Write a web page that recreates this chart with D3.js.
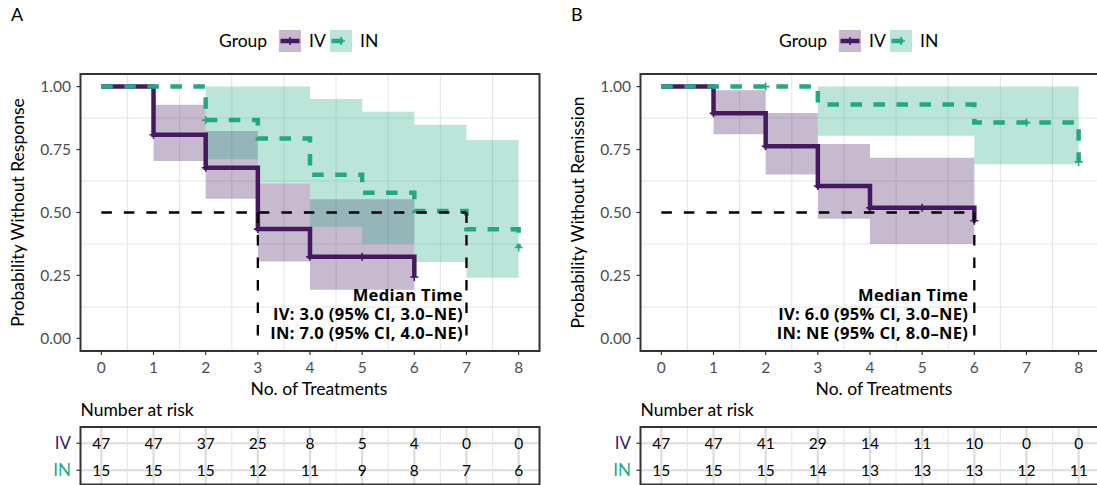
<!DOCTYPE html>
<html>
<head>
<meta charset="utf-8">
<script src="https://cdn.jsdelivr.net/npm/d3@7"></script>
<style>
  body { margin: 0; background: #fff; }
  svg { display: block; font-family: Lato, "Open Sans", sans-serif; }
  .median-note { font-family: "Open Sans", Lato, sans-serif; letter-spacing: 0.35px; }
</style>
</head>
<body>
<svg id="chart" width="1097" height="485"></svg>
<script>
/* Kaplan-Meier curves, two panels with risk tables */

const treatTicks = [0, 1, 2, 3, 4, 5, 6, 7, 8];
const groups = ['IV', 'IN'];
const yTicks = [0, 0.25, 0.5, 0.75, 1];

// panel A: response
const respIvTime = [0, 1, 2, 3, 4, 6];
const respIvSurv = [1, 0.809, 0.678, 0.434, 0.324, 0.244];
const respIvLower = [1, 0.705, 0.555, 0.305, 0.193, 0.193];
const respIvUpper = [1, 0.928, 0.824, 0.616, 0.553, 0.553];
const respIvCensor = [1, 2, 3, 4, 5, 6];

const respInTime = [0, 2, 3, 4, 5, 6, 7, 8];
const respInSurv = [1, 0.867, 0.794, 0.650, 0.578, 0.506, 0.433, 0.361];
const respInLower = [1, 0.711, 0.618, 0.443, 0.376, 0.303, 0.241, 0.241];
const respInUpper = [1, 1, 1, 0.951, 0.900, 0.848, 0.788, 0.788];
const respInCensor = [2, 8];

const respMedians = [3, 7];
const respText = ['Median Time', 'IV: 3.0 (95% CI, 3.0–NE)', 'IN: 7.0 (95% CI, 4.0–NE)'];
const respRiskIv = [47, 47, 37, 25, 8, 5, 4, 0, 0];
const respRiskIn = [15, 15, 15, 12, 11, 9, 8, 7, 6];

// panel B: remission
const remIvTime = [0, 1, 2, 3, 4, 6];
const remIvSurv = [1, 0.894, 0.763, 0.605, 0.519, 0.467];
const remIvLower = [1, 0.811, 0.651, 0.475, 0.375, 0.375];
const remIvUpper = [1, 0.985, 0.895, 0.772, 0.717, 0.717];
const remIvCensor = [1, 2, 3, 4, 5, 6];

const remInTime = [0, 3, 6, 8];
const remInSurv = [1, 0.929, 0.857, 0.701];
const remInLower = [1, 0.805, 0.692, 0.692];
const remInUpper = [1, 1, 1, 1];
const remInCensor = [2, 7, 8];

const remMedians = [6];
const remText = ['Median Time', 'IV: 6.0 (95% CI, 3.0–NE)', 'IN: NE (95% CI, 8.0–NE)'];
const remRiskIv = [47, 47, 41, 29, 14, 11, 10, 0, 0];
const remRiskIn = [15, 15, 15, 14, 13, 13, 13, 12, 11];

const colors = { IV: '#44195f', IN: '#22a884' };
const fills = { IV: 'rgba(68,25,95,0.3)', IN: 'rgba(34,168,132,0.3)' };
const dashes = { IV: null, IN: '11.5,11.5' };

const panels = [
  {
    tag: 'A', dx: 0, yTitle: 'Probability Without Response',
    medians: respMedians, text: respText, textGap: 3.5, titleShift: 9,
    curves: [
      { g: 'IV', time: respIvTime, surv: respIvSurv, lower: respIvLower, upper: respIvUpper, censor: respIvCensor },
      { g: 'IN', time: respInTime, surv: respInSurv, lower: respInLower, upper: respInUpper, censor: respInCensor }
    ],
    risk: { IV: respRiskIv, IN: respRiskIn }
  },
  {
    tag: 'B', dx: 560, yTitle: 'Probability Without Remission',
    medians: remMedians, text: remText, textGap: 6, titleShift: 14,
    curves: [
      { g: 'IV', time: remIvTime, surv: remIvSurv, lower: remIvLower, upper: remIvUpper, censor: remIvCensor },
      { g: 'IN', time: remInTime, surv: remInSurv, lower: remInLower, upper: remInUpper, censor: remInCensor }
    ],
    risk: { IV: remRiskIv, IN: remRiskIn }
  }
];

const svg = d3.select('#chart');

function stepValue(time, vals, t) {
  let v = vals[0];
  time.forEach((tt, i) => { if (tt <= t) v = vals[i]; });
  return v;
}

function drawGrid(g, x, yPos, xMin, xMax, yMin, yMax, hLines) {
  const minorX = treatTicks.slice(0, -1).map((d) => d + 0.5);
  g.selectAll('.gx-minor').data(minorX).join('line')
    .attr('x1', x).attr('x2', x).attr('y1', yMin).attr('y2', yMax)
    .attr('stroke', '#e6e6e6').attr('stroke-width', 1.1);
  if (hLines.minor) {
    g.selectAll('.gy-minor').data(hLines.minor).join('line')
      .attr('class', 'gy-minor')
      .attr('x1', xMin).attr('x2', xMax).attr('y1', yPos).attr('y2', yPos)
      .attr('stroke', '#e6e6e6').attr('stroke-width', 1.1);
  }
  g.selectAll('.gx-major').data(treatTicks).join('line')
    .attr('class', 'gx-major')
    .attr('x1', x).attr('x2', x).attr('y1', yMin).attr('y2', yMax)
    .attr('stroke', '#dcdcdc').attr('stroke-width', 2.2);
  g.selectAll('.gy-major').data(hLines.major).join('line')
    .attr('class', 'gy-major')
    .attr('x1', xMin).attr('x2', xMax).attr('y1', yPos).attr('y2', yPos)
    .attr('stroke', '#dcdcdc').attr('stroke-width', 2.2);
}

panels.forEach((p) => {
  const left = 80.5 + p.dx, right = 539.5 + p.dx;
  const top = 74, bottom = 351;
  const x = d3.scaleLinear().domain([-0.4, 8.4]).range([left, right]);
  const y = d3.scaleLinear().domain([-0.05, 1.05]).range([bottom, top]);
  const g = svg.append('g');

  // tag
  g.append('text').attr('x', p.dx + 11).attr('y', 21)
    .attr('font-size', 18).attr('fill', '#000').text(p.tag);

  // legend
  const lg = g.append('g').attr('transform', `translate(${p.dx + 219},41)`);
  lg.append('text').attr('x', 0).attr('y', 6).attr('font-size', 17.5).text('Group');
  const keyX = { IV: 60, IN: 111 };
  groups.forEach((k) => {
    const kg = lg.append('g').attr('transform', `translate(${keyX[k]},0)`);
    kg.append('rect').attr('x', 0).attr('y', -11).attr('width', 22).attr('height', 22)
      .attr('fill', fills[k]);
    kg.append('line').attr('x1', 1.5).attr('x2', 20.5).attr('y1', 0).attr('y2', 0)
      .attr('stroke', colors[k]).attr('stroke-width', 4.5)
      .attr('stroke-dasharray', dashes[k]);
    kg.append('path').attr('d', 'M-4,0H4M0,-4V4').attr('transform', 'translate(11,0)')
      .attr('stroke', colors[k]).attr('stroke-width', 1.6).attr('fill', 'none');
    kg.append('text').attr('x', 30).attr('y', 6).attr('font-size', 17.5).text(k);
  });

  // grid
  drawGrid(g, (d) => x(d), (d) => y(d), left, right, top, bottom,
    { major: yTicks, minor: [0.125, 0.375, 0.625, 0.875] });

  // confidence bands
  const area = d3.area().curve(d3.curveStepAfter)
    .x((d) => x(d.t)).y0((d) => y(d.lo)).y1((d) => y(d.hi));
  const line = d3.line().curve(d3.curveStepAfter)
    .x((d) => x(d.t)).y((d) => y(d.s));
  p.curves.forEach((c) => {
    const pts = c.time.map((t, i) => ({ t, s: c.surv[i], lo: c.lower[i], hi: c.upper[i] }));
    g.append('path').datum(pts).attr('d', area).attr('fill', fills[c.g]).attr('stroke', 'none');
  });
  p.curves.forEach((c) => {
    const pts = c.time.map((t, i) => ({ t, s: c.surv[i] }));
    g.append('path').datum(pts).attr('d', line)
      .attr('fill', 'none').attr('stroke', colors[c.g]).attr('stroke-width', 4.5)
      .attr('stroke-dasharray', dashes[c.g]);
    g.selectAll(null).data(c.censor).join('path')
      .attr('d', 'M-4,0H4M0,-4V4')
      .attr('transform', (t) => `translate(${x(t)},${y(stepValue(c.time, c.surv, t))})`)
      .attr('stroke', colors[c.g]).attr('stroke-width', 1.6).attr('fill', 'none');
  });

  // median lines
  const mMax = d3.max(p.medians);
  g.append('line').attr('x1', x(0)).attr('x2', x(mMax)).attr('y1', y(0.5)).attr('y2', y(0.5))
    .attr('stroke', '#000').attr('stroke-width', 2.3).attr('stroke-dasharray', '10.5,12');
  g.selectAll(null).data(p.medians).join('line')
    .attr('x1', (d) => x(d)).attr('x2', (d) => x(d)).attr('y1', y(0.5)).attr('y2', y(0))
    .attr('stroke', '#000').attr('stroke-width', 2.3).attr('stroke-dasharray', '10.5,12');

  // one text block, three lines
  const note = g.append('text').attr('class', 'median-note')
    .attr('text-anchor', 'end').attr('font-size', 16.5).attr('font-weight', 'bold')
    .attr('fill', '#000');
  note.selectAll('tspan').data(p.text).join('tspan')
    .attr('x', x(mMax) - p.textGap).attr('y', (d, i) => 301 + i * 19)
    .text((d) => d);

  // border & ticks
  g.append('rect').attr('x', left).attr('y', top).attr('width', right - left).attr('height', bottom - top)
    .attr('fill', 'none').attr('stroke', '#333').attr('stroke-width', 2);
  g.selectAll(null).data(yTicks).join('line')
    .attr('x1', left - 4).attr('x2', left).attr('y1', (d) => y(d)).attr('y2', (d) => y(d))
    .attr('stroke', '#333').attr('stroke-width', 1.2);
  g.selectAll(null).data(yTicks).join('text')
    .attr('x', left - 9.5).attr('y', (d) => y(d) + 5.2).attr('text-anchor', 'end')
    .attr('font-size', 15.5).attr('fill', '#4d4d4d').text((d) => d.toFixed(2));
  g.selectAll(null).data(treatTicks).join('line')
    .attr('x1', (d) => x(d)).attr('x2', (d) => x(d)).attr('y1', bottom).attr('y2', bottom + 4)
    .attr('stroke', '#333').attr('stroke-width', 1.2);
  g.selectAll(null).data(treatTicks).join('text')
    .attr('x', (d) => x(d)).attr('y', 373).attr('text-anchor', 'middle')
    .attr('font-size', 15.5).attr('fill', '#4d4d4d').text((d) => d);

  g.append('text').attr('x', (left + right) / 2 + p.titleShift).attr('y', 395).attr('text-anchor', 'middle')
    .attr('font-size', 17.5).text('No. of Treatments');
  g.append('text').attr('transform', `translate(${p.dx + 24},${(top + bottom) / 2}) rotate(-90)`)
    .attr('text-anchor', 'middle').attr('font-size', 17.5).text(p.yTitle);

  // risk table
  const tTop = 427, tBottom = 484.5;
  const ry = d3.scalePoint().domain(groups).range([tTop, tBottom + 2]).padding(0.6);
  g.append('text').attr('x', left).attr('y', 415.5).attr('font-size', 17.5).text('Number at risk');
  drawGrid(g, (d) => x(d), (d) => ry(d), left, right, tTop, tBottom, { major: groups });
  groups.forEach((k) => {
    g.selectAll(null).data(p.risk[k]).join('text')
      .attr('x', (d, i) => x(treatTicks[i])).attr('y', ry(k) + 5.5)
      .attr('text-anchor', 'middle').attr('font-size', 15.5).attr('fill', '#000')
      .text((d) => d);
    g.append('text').attr('x', left - 9.5).attr('y', ry(k) + 6)
      .attr('text-anchor', 'end').attr('font-size', 17).attr('fill', colors[k]).text(k);
    g.append('line').attr('x1', left - 4).attr('x2', left).attr('y1', ry(k)).attr('y2', ry(k))
      .attr('stroke', '#333').attr('stroke-width', 1.2);
  });
  g.append('rect').attr('x', left).attr('y', tTop).attr('width', right - left).attr('height', tBottom - tTop)
    .attr('fill', 'none').attr('stroke', '#333').attr('stroke-width', 2);
});
</script>
</body>
</html>
